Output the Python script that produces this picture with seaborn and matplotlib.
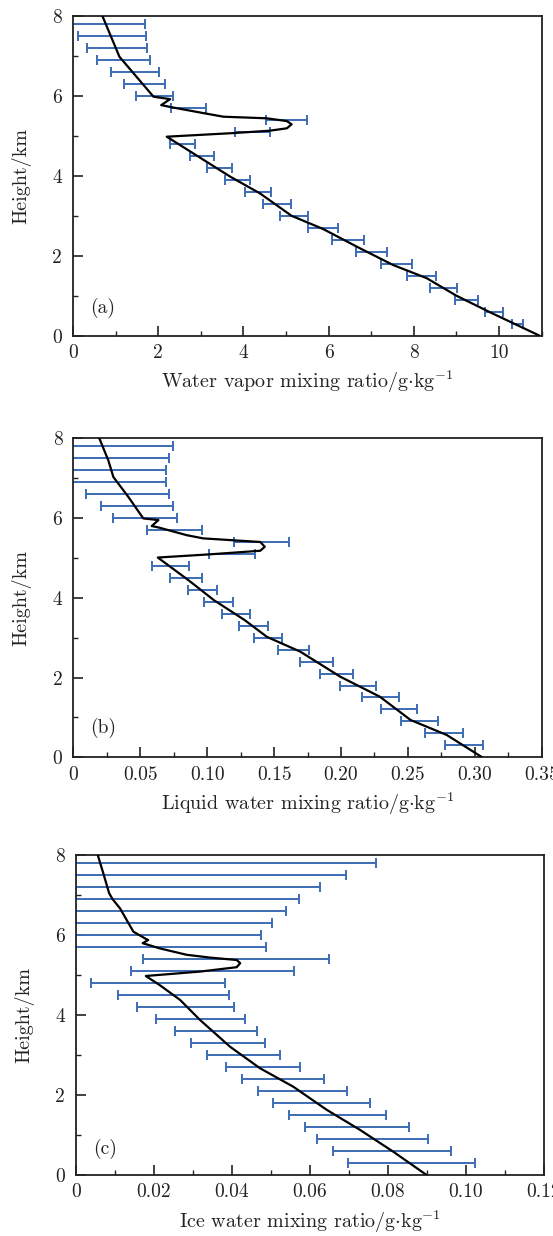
import matplotlib
matplotlib.use("Agg")
import matplotlib.pyplot as plt
import seaborn as sns
import numpy as np
import pandas as pd

# ---------------- data ----------------
# mean profiles (value, height in km)
height_a = [8.0, 6.98, 5.98, 5.92, 5.77, 5.72, 5.57, 5.48, 5.44, 5.37, 5.29, 5.19, 5.13,
            5.07, 4.98, 4.49, 3.98, 3.56, 3.00, 2.67, 2.19, 1.77, 1.44, 1.00, 0.59, 0.0]
vapor = [0.69, 1.09, 1.89, 2.28, 2.07, 2.30, 3.06, 3.53, 4.55, 5.02, 5.13, 5.02, 4.62,
         3.76, 2.20, 2.93, 3.69, 4.39, 5.13, 5.87, 6.73, 7.51, 8.30, 9.00, 9.78, 10.95]

height_b = [8.0, 7.45, 7.03, 6.53, 5.99, 5.95, 5.80, 5.76, 5.57, 5.49, 5.40, 5.28, 5.18,
            5.09, 5.01, 4.44, 3.94, 3.44, 3.02, 2.65, 2.02, 1.52, 0.935, 0.56, 0.0]
liquid = [0.0193, 0.026, 0.0298, 0.041, 0.0522, 0.0635, 0.0585, 0.064, 0.0847, 0.097,
          0.1396, 0.143, 0.1396, 0.102, 0.063, 0.086, 0.105, 0.128, 0.1446, 0.1695,
          0.1995, 0.229, 0.252, 0.279, 0.3055]

height_c = [8.0, 7.55, 7.05, 6.90, 6.67, 6.38, 6.09, 5.92, 5.88, 5.80, 5.76, 5.67, 5.51,
            5.44, 5.38, 5.30, 5.20, 5.09, 4.98, 4.75, 4.38, 3.88, 3.21, 2.67, 2.21, 1.63,
            1.13, 0.58, 0.0]
ice = [0.0056, 0.0070, 0.0085, 0.0094, 0.0113, 0.0130, 0.0147, 0.0177, 0.0185, 0.0171,
       0.0185, 0.0215, 0.0284, 0.0344, 0.0412, 0.0421, 0.0412, 0.0318, 0.0179, 0.0215,
       0.0267, 0.0318, 0.0395, 0.0472, 0.0557, 0.0643, 0.0728, 0.0814, 0.0899]

# spread ranges at fixed levels
err_height = [7.8, 7.5, 7.2, 6.9, 6.6, 6.3, 6.0, 5.7, 5.4, 5.1, 4.8, 4.5, 4.2,
              3.9, 3.6, 3.3, 3.0, 2.7, 2.4, 2.1, 1.8, 1.5, 1.2, 0.9, 0.6, 0.3]
vapor_lo = [-0.05, 0.11, 0.32, 0.56, 0.90, 1.20, 1.48, 2.30, 4.53, 3.80, 2.28, 2.74, 3.15,
            3.56, 4.03, 4.47, 4.86, 5.51, 6.09, 6.64, 7.24, 7.83, 8.38, 8.97, 9.67, 10.31]
vapor_hi = [1.69, 1.72, 1.73, 1.81, 2.01, 2.17, 2.35, 3.11, 5.49, 4.62, 2.86, 3.30, 3.72,
            4.16, 4.65, 5.12, 5.52, 6.22, 6.83, 7.38, 7.96, 8.53, 9.01, 9.51, 10.09, 10.56]
liquid_lo = [-0.005, -0.005, -0.005, -0.005, 0.0094, 0.0204, 0.0298, 0.0548, 0.120, 0.1014,
             0.059, 0.0725, 0.0857, 0.0978, 0.111, 0.124, 0.1349, 0.153, 0.1695, 0.184,
             0.199, 0.216, 0.230, 0.245, 0.263, 0.278]
liquid_hi = [0.0747, 0.0715, 0.069, 0.069, 0.0715, 0.0747, 0.077, 0.0964, 0.161, 0.136,
             0.086, 0.0964, 0.107, 0.119, 0.132, 0.1456, 0.156, 0.176, 0.194, 0.209, 0.226,
             0.243, 0.257, 0.2726, 0.291, 0.306]
ice_lo = [-0.005, -0.005, -0.005, -0.005, -0.005, -0.005, -0.005, -0.005, 0.0171, 0.0140,
          0.0038, 0.0108, 0.0156, 0.0205, 0.0255, 0.0294, 0.0336, 0.0384, 0.0425, 0.0467,
          0.0506, 0.0546, 0.0587, 0.0617, 0.0658, 0.0697]
ice_hi = [0.0769, 0.0692, 0.0626, 0.0573, 0.0538, 0.0503, 0.0474, 0.0486, 0.0648, 0.0559,
          0.0382, 0.0393, 0.0404, 0.0434, 0.0465, 0.0485, 0.0524, 0.0575, 0.0635, 0.0694,
          0.0755, 0.0794, 0.0853, 0.0903, 0.0962, 0.1022]

# axis ticks and labels
ticks_a = [0, 2, 4, 6, 8, 10]
ticks_b = [0, 0.05, 0.10, 0.15, 0.20, 0.25, 0.30, 0.35]
ticks_c = [0, 0.02, 0.04, 0.06, 0.08, 0.10, 0.12]
ticklabels_a = ["0", "2", "4", "6", "8", "10"]
ticklabels_b = ["0", "0.05", "0.10", "0.15", "0.20", "0.25", "0.30", "0.35"]
ticklabels_c = ["0", "0.02", "0.04", "0.06", "0.08", "0.10", "0.12"]
height_ticks = [0, 2, 4, 6, 8]
xlabel_a = r"Water vapor mixing ratio/g$\cdot$kg$^{-1}$"
xlabel_b = r"Liquid water mixing ratio/g$\cdot$kg$^{-1}$"
xlabel_c = r"Ice water mixing ratio/g$\cdot$kg$^{-1}$"
ylabel = "Height/km"
panel_tags = ["(a)", "(b)", "(c)"]

# ---------------- style ----------------
sns.set_theme(style="ticks")
plt.rcParams["font.family"] = ["cmr10", "DejaVu Serif"]
plt.rcParams["mathtext.fontset"] = "cm"
plt.rcParams["axes.unicode_minus"] = False
plt.rcParams["axes.formatter.use_mathtext"] = True

ERR_COLOR = "#3d6cb6"
SPINE_COLOR = "#222222"
TEXT_COLOR = "#222222"
TICK_FS = 14
LABEL_FS = 14.5

fig = plt.figure(figsize=(5.53, 12.36), dpi=100)
W, H = 553.0, 1236.0
boxes = [(73.0, 16.0, 541.7, 335.7),
         (73.5, 438.3, 541.7, 757.3),
         (76.0, 855.3, 544.0, 1175.0)]

panels = [
    (height_a, vapor, vapor_lo, vapor_hi, (0, 11), ticks_a, ticklabels_a, 1.0, xlabel_a, 0.087),
    (height_b, liquid, liquid_lo, liquid_hi, (0, 0.35), ticks_b, ticklabels_b, 0.025, xlabel_b, 0.092),
    (height_c, ice, ice_lo, ice_hi, (0, 0.12), ticks_c, ticklabels_c, 0.01, xlabel_c, 0.083),
]

for (x0, y0, x1, y1), (hgt, val, lo, hi, xlim, xt, xtl, minor, xlab, tag_y), tag in zip(
        boxes, panels, panel_tags):
    ax = fig.add_axes([x0 / W, 1 - y1 / H, (x1 - x0) / W, (y1 - y0) / H])

    lo_arr = np.array(lo)
    hi_arr = np.array(hi)
    centre = (lo_arr + hi_arr) / 2
    half = (hi_arr - lo_arr) / 2
    ax.errorbar(centre, err_height, xerr=half, fmt="none", ecolor=ERR_COLOR,
                elinewidth=1.4, capsize=3.4, capthick=1.4, zorder=2)

    prof = pd.DataFrame({"value": val, "height": hgt})
    sns.lineplot(data=prof, x="value", y="height", sort=False, estimator=None,
                 color="black", lw=1.6, ax=ax, zorder=3)

    ax.set_xlim(*xlim)
    ax.set_ylim(0, 8)
    ax.set_xticks(xt)
    ax.set_xticklabels(xtl)
    ax.set_xticks(np.arange(xlim[0], xlim[1] + 1e-9, minor), minor=True)
    ax.set_yticks(height_ticks)
    ax.set_yticklabels([str(t) for t in height_ticks])
    ax.set_yticks([1, 3, 5, 7], minor=True)

    ax.tick_params(axis="both", which="major", direction="in", length=7, width=1.2,
                   color=SPINE_COLOR, labelsize=TICK_FS, labelcolor=TEXT_COLOR,
                   top=False, right=False)
    ax.tick_params(axis="x", which="major", pad=6)
    ax.tick_params(axis="y", which="major", pad=8)
    ax.tick_params(axis="both", which="minor", direction="in", length=3.5, width=1.0,
                   color=SPINE_COLOR, top=False, right=False)

    for s in ax.spines.values():
        s.set_linewidth(1.3)
        s.set_color(SPINE_COLOR)
        s.set_visible(True)

    ax.set_xlabel(xlab, fontsize=LABEL_FS, labelpad=5, color=TEXT_COLOR)
    ax.set_ylabel(ylabel, fontsize=LABEL_FS, labelpad=15, color=TEXT_COLOR)
    ax.text(0.036, tag_y, tag, transform=ax.transAxes, fontsize=TICK_FS, color=TEXT_COLOR,
            ha="left", va="center")

fig.savefig("out.png", dpi=100)
